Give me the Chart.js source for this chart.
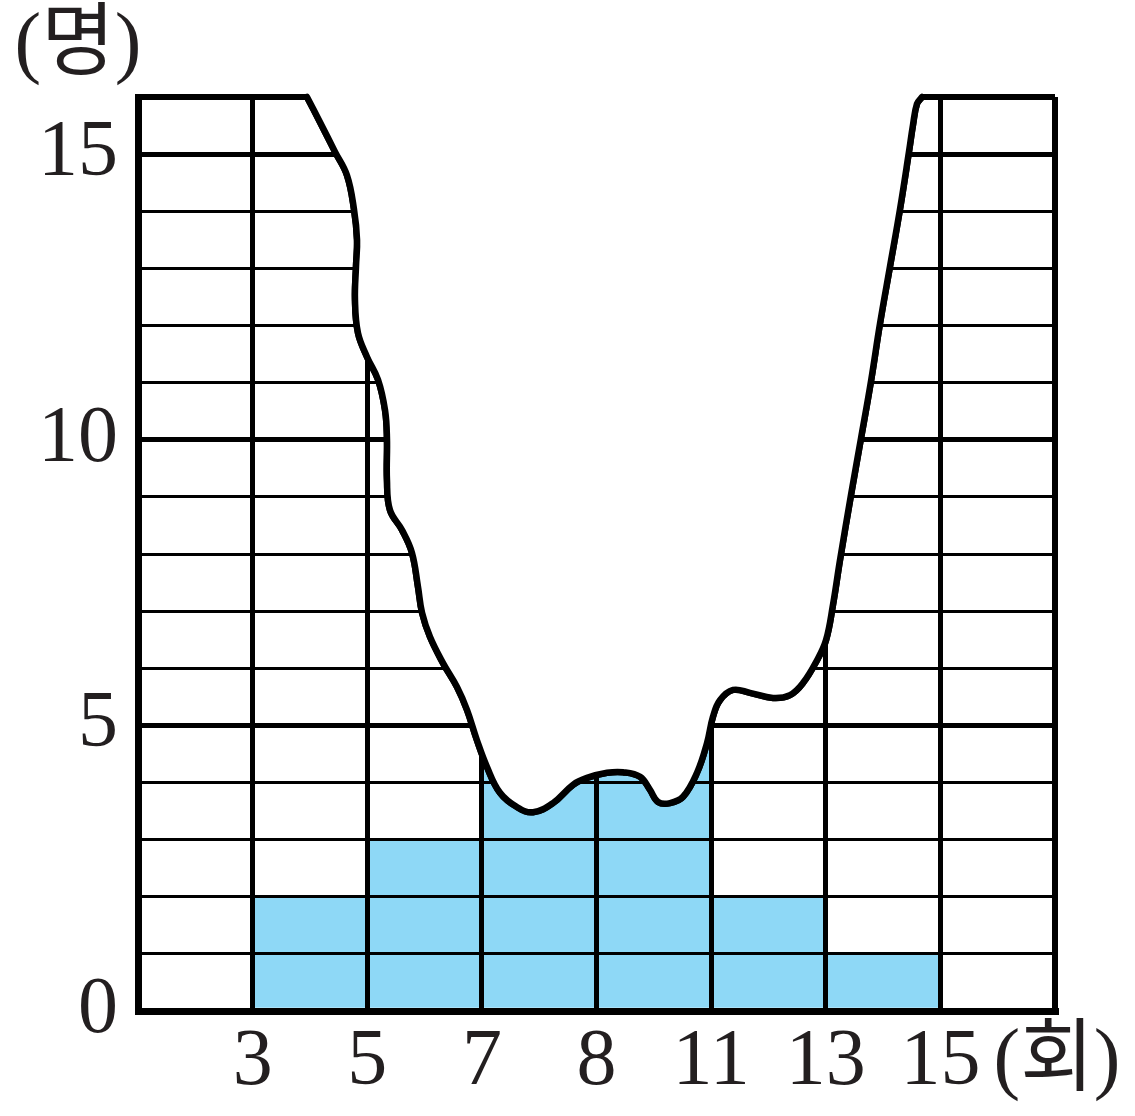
<!DOCTYPE html>
<html>
<head>
<meta charset="utf-8">
<script src="https://cdn.jsdelivr.net/npm/chart.js@4/dist/chart.umd.min.js"></script>
<style>
html,body{margin:0;padding:0;background:#fff;}
#wrap{width:1135px;height:1116px;}
</style>
</head>
<body>
<div id="wrap"><canvas id="c" width="1135" height="1116"></canvas></div>
<script>
// ---- data ----
const boundaryLabels = ['', '3', '5', '7', '8', '11', '13', '15', ''];
const binPositions = [0.5, 1.5, 2.5, 3.5, 4.5, 5.5, 6.5, 7.5];
const counts = [0, 2, 3, 5, 5, 2, 1, 0];
const yLabelValues = [0, 5, 10, 15];
const yUnit = '(명)';
const xUnit = '(회)';
// torn-edge outline (bin units, people)
const tearX = [1.474, 1.588, 1.719, 1.823, 1.884, 1.911, 1.902, 1.893, 1.919, 1.998, 2.094, 2.155, 2.172, 2.172, 2.198, 2.303, 2.390, 2.443, 2.478, 2.547, 2.661, 2.783, 2.870, 2.957, 3.045, 3.158, 3.306, 3.446, 3.620, 3.795, 3.917, 4.092, 4.231, 4.380, 4.467, 4.537, 4.641, 4.755, 4.877, 4.964, 5.016, 5.077, 5.191, 5.339, 5.540, 5.688, 5.801, 5.924, 6.002, 6.063, 6.124, 6.220, 6.308, 6.395, 6.473, 6.561, 6.648, 6.726, 6.761, 6.796, 6.840];
const tearY = [16.0, 15.56, 15.04, 14.63, 14.04, 13.50, 13.04, 12.45, 11.87, 11.45, 11.05, 10.52, 10.03, 9.30, 8.77, 8.42, 8.02, 7.42, 6.97, 6.55, 6.09, 5.67, 5.27, 4.74, 4.27, 3.82, 3.57, 3.48, 3.64, 3.96, 4.08, 4.17, 4.18, 4.10, 3.87, 3.66, 3.64, 3.75, 4.17, 4.69, 5.15, 5.44, 5.62, 5.57, 5.48, 5.53, 5.74, 6.14, 6.49, 7.11, 7.89, 9.03, 10.03, 11.03, 12.03, 13.04, 14.04, 15.04, 15.51, 15.88, 16.0];

const barData = binPositions.map((x, i) => ({x: x, y: counts[i]}));
const tearData = tearX.map((x, i) => ({x: x, y: tearY[i]}));

const FONT = '"Liberation Serif", "Noto Sans CJK KR", serif';
const TEXT = '#231f20';

const tearPlugin = {
  id: 'tear',
  afterDraw(chart) {
    const meta = chart.getDatasetMeta(1);
    const line = meta.dataset;
    const pts = meta.data;
    const ctx = chart.ctx;
    const top = chart.chartArea.top;
    const tracePath = () => {
      if (typeof line.path === 'function') {
        line.path(ctx);
      } else {
        ctx.moveTo(pts[0].x, pts[0].y);
        for (let i = 1; i < pts.length; i++) {
          const p = pts[i - 1], q = pts[i];
          ctx.bezierCurveTo(p.cp2x, p.cp2y, q.cp1x, q.cp1y, q.x, q.y);
        }
      }
    };
    ctx.save();
    ctx.beginPath();
    tracePath();
    ctx.lineTo(pts[pts.length - 1].x, top - 8);
    ctx.lineTo(pts[0].x, top - 8);
    ctx.closePath();
    ctx.fillStyle = '#ffffff';
    ctx.fill();
    ctx.beginPath();
    tracePath();
    ctx.lineWidth = 6.5;
    ctx.strokeStyle = '#000';
    ctx.lineJoin = 'round';
    ctx.lineCap = 'round';
    ctx.stroke();
    ctx.restore();

    // unit labels
    const ca = chart.chartArea;
    ctx.save();
    ctx.fillStyle = TEXT;
    ctx.font = '80px ' + FONT;
    ctx.textAlign = 'center';
    ctx.textBaseline = 'middle';
    ctx.fillText(yUnit, ca.left - 60, ca.top - 50);
    ctx.fillText(xUnit, ca.right + 2, ca.bottom + 52);
    ctx.restore();
  }
};

new Chart(document.getElementById('c'), {
  type: 'bar',
  data: {
    datasets: [
      {
        type: 'bar',
        data: barData,
        backgroundColor: '#8ed8f6',
        borderWidth: 0,
        barPercentage: 1,
        categoryPercentage: 1,
        order: 2
      },
      {
        type: 'line',
        data: tearData,
        borderColor: '#000',
        borderWidth: 6.5,
        pointRadius: 0,
        tension: 0.4,
        fill: false,
        order: 1
      }
    ]
  },
  options: {
    responsive: false,
    animation: false,
    layout: {padding: {top: 97, right: 80, left: 0, bottom: 0}},
    plugins: {legend: {display: false}, tooltip: {enabled: false}, title: {display: false}},
    scales: {
      x: {
        type: 'linear', min: 0, max: 8, offset: false,
        afterFit(s) { s.height = 105; },
        ticks: {
          stepSize: 1, autoSkip: false, maxRotation: 0, minRotation: 0, padding: 12,
          color: TEXT, font: {family: FONT, size: 80, lineHeight: 1},
          callback: (v) => boundaryLabels[v] !== undefined ? boundaryLabels[v] : ''
        },
        grid: {
          offset: false, color: '#000', z: 1, drawTicks: false,
          lineWidth: (c) => {
            const v = c.tick ? c.tick.value : 0;
            if (v === 0) return 7;
            if (v === 8) return 6;
            return 5;
          }
        },
        border: {display: true, color: '#000', width: 7, z: 2}
      },
      y: {
        type: 'linear', min: 0, max: 16,
        afterFit(s) { s.width = 138; },
        ticks: {
          stepSize: 1, autoSkip: false, padding: 20,
          color: TEXT, font: {family: FONT, size: 80, lineHeight: 1},
          callback: (v) => yLabelValues.includes(v) ? String(v) : ''
        },
        grid: {
          color: '#000', z: 1, drawTicks: false,
          lineWidth: (c) => {
            const v = c.tick ? c.tick.value : 0;
            if (v === 0) return 7;
            if (v === 16) return 6;
            if (v % 5 === 0) return 5;
            return 3;
          }
        },
        border: {display: true, color: '#000', width: 7, z: 2}
      }
    }
  },
  plugins: [tearPlugin]
});
</script>
</body>
</html>
